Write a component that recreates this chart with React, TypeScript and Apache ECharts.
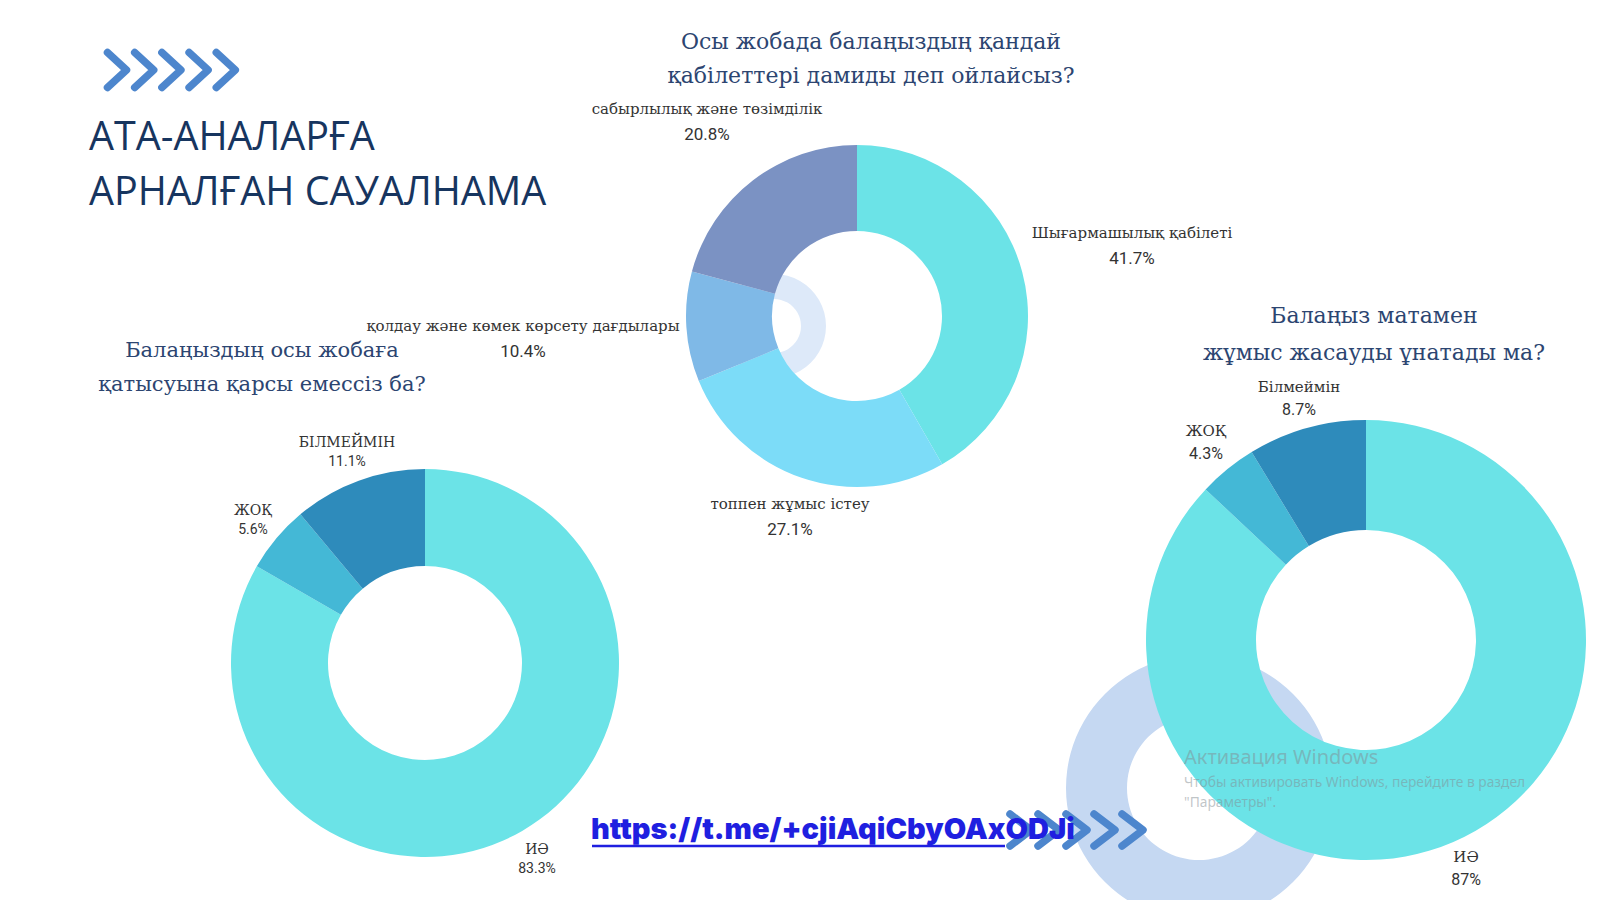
import React, { useEffect, useRef } from 'react';
import * as echarts from 'echarts';

// ---------- data ----------
const headingLines = ['АТА-АНАЛАРҒА', 'АРНАЛҒАН САУАЛНАМА'];

const skillsTitle = ['Осы жобада балаңыздың қандай', 'қабілеттері дамиды деп ойлайсыз?'];
const skillsNames = [
  'Шығармашылық қабілеті',
  'топпен жұмыс істеу',
  'қолдау және көмек көрсету дағдылары',
  'сабырлылық және төзімділік',
];
const skillsValues = [41.7, 27.1, 10.4, 20.8];

const participationTitle = ['Балаңыздың осы жобаға', 'қатысуына қарсы емессіз ба?'];
const participationNames = ['ИӘ', 'ЖОҚ', 'БІЛМЕЙМІН'];
const participationValues = [83.3, 5.6, 11.1];

const fabricTitle = ['Балаңыз матамен', 'жұмыс жасауды ұнатады ма?'];
const fabricNames = ['ИӘ', 'ЖОҚ', 'Білмеймін'];
const fabricValues = [87, 4.3, 8.7];

const linkText = 'https://t.me/+cjiAqiCbyOAxODJi';
const watermarkLines = ['Активация Windows', 'Чтобы активировать Windows, перейдите в раздел', '"Параметры".'];

// ---------- styles / layout ----------
const CYAN = '#6be3e7';
const skillsColors = [CYAN, '#7cdcf8', '#7fb9e7', '#7b92c3'];
const yesNoColors = [CYAN, '#44b8d6', '#2e8bbb'];
const CHEVRON = '#4d86cd';
const TITLE_COLOR = '#2c4571';

const skillsLabelPos = [[1132, 245], [790, 516], [523, 338], [707, 121]];
const participationLabelPos = [[537, 858], [253, 519], [347, 451]];
const fabricLabelPos = [[1466, 868], [1206, 442], [1299, 398]];

function chevrons(x0: number, y0: number, w: number, h: number, gap: number, lw: number) {
  const els: any[] = [];
  for (let i = 0; i < 5; i++) {
    const x = x0 + i * gap;
    els.push({
      type: 'polyline',
      z: 5,
      shape: { points: [[x, y0], [x + w, y0 + h / 2], [x, y0 + h]] },
      style: { stroke: CHEVRON, lineWidth: lw, lineCap: 'round', lineJoin: 'round', fill: null },
    });
  }
  return els;
}

function titleText(lines: string[], x: number, ys: number[], size: number) {
  return lines.map((t, i) => ({
    type: 'text',
    z: 10,
    x,
    y: ys[i],
    style: {
      text: t,
      fill: TITLE_COLOR,
      font: `${size}px "DejaVu Serif"`,
      textAlign: 'center',
      textVerticalAlign: 'middle',
    },
  }));
}

function pieSeries(
  names: string[],
  values: number[],
  colors: string[],
  center: number[],
  radius: number[],
  labelPos: number[][],
  nameSize: number,
  pctSize: number,
  lineH: number
) {
  return {
    type: 'pie',
    z: 2,
    center,
    radius,
    startAngle: 90,
    clockwise: true,
    avoidLabelOverlap: false,
    emphasis: { disabled: true },
    itemStyle: { borderWidth: 0 },
    label: {
      show: true,
      position: 'outside',
      formatter: '{n|{b}}\n{p|{c}%}',
      align: 'center',
      rich: {
        n: { fontFamily: 'DejaVu Serif', fontSize: nameSize, color: '#333', lineHeight: lineH, align: 'center' },
        p: { fontFamily: 'Roboto', fontSize: pctSize, color: '#333', lineHeight: lineH, align: 'center' },
      },
    },
    labelLine: { show: false },
    labelLayout: (params: any) => {
      const p = labelPos[params.dataIndex];
      return { x: p[0], y: p[1], align: 'center', verticalAlign: 'middle' };
    },
    data: names.map((n, i) => ({ name: n, value: values[i], itemStyle: { color: colors[i] } })),
  };
}

export default function App() {
  const ref = useRef<HTMLDivElement>(null);

  useEffect(() => {
    document.body.style.margin = '0';
    if (!ref.current) return;
    const chart = echarts.init(ref.current, undefined, { renderer: 'svg' });

    const graphic: any[] = [
      // decorative rings behind donuts
      { type: 'ring', z: 0, shape: { cx: 774, cy: 326, r: 52, r0: 27 }, style: { fill: '#dde9f9' } },
      { type: 'ring', z: 0, shape: { cx: 1199, cy: 788, r: 133, r0: 72 }, style: { fill: '#c5d8f2' } },
      // heading chevrons
      ...chevrons(107.5, 52.5, 19, 35, 27.2, 7.5),
      // heading
      ...headingLines.map((t, i) => ({
        type: 'text',
        z: 10,
        x: 89,
        y: 135 + i * 55,
        style: {
          text: t,
          fill: '#17355f',
          font: '39.5px "Open Sans"',
          textAlign: 'left',
          textVerticalAlign: 'middle',
        },
      })),
      ...titleText(skillsTitle, 871, [41, 75], 22),
      ...titleText(participationTitle, 262, [350, 384], 21),
      ...titleText(fabricTitle, 1374, [315, 352], 22),
      // bottom chevrons
      ...chevrons(1010, 814, 21, 32, 28, 7.5),
      // link
      {
        type: 'text',
        z: 20,
        x: 591,
        y: 828,
        style: {
          text: linkText,
          fill: '#1f1fe0',
          font: '900 29px Inter',
          textAlign: 'left',
          textVerticalAlign: 'middle',
        },
      },
      { type: 'line', z: 20, shape: { x1: 592, y1: 846, x2: 1005, y2: 846 }, style: { stroke: '#1f1fe0', lineWidth: 2.5 } },
      // watermark
      ...watermarkLines.map((t, i) => ({
        type: 'text',
        z: 30,
        x: 1184,
        y: [756, 781, 801][i],
        style: {
          text: t,
          fill: 'rgba(130,140,145,0.5)',
          font: `${i === 0 ? 20 : 13.8}px "Noto Sans"`,
          textAlign: 'left',
          textVerticalAlign: 'middle',
        },
      })),
    ];

    chart.setOption({
      animation: false,
      backgroundColor: '#ffffff',
      graphic,
      series: [
        pieSeries(skillsNames, skillsValues, skillsColors, [857, 316], [85, 171], skillsLabelPos, 15, 17, 25),
        pieSeries(participationNames, participationValues, yesNoColors, [425, 663], [97, 194], participationLabelPos, 14, 14, 19),
        pieSeries(fabricNames, fabricValues, yesNoColors, [1366, 640], [110, 220], fabricLabelPos, 15, 16, 22),
      ],
    });

    return () => chart.dispose();
  }, []);

  return <div ref={ref} style={{ width: 1600, height: 900 }} />;
}
